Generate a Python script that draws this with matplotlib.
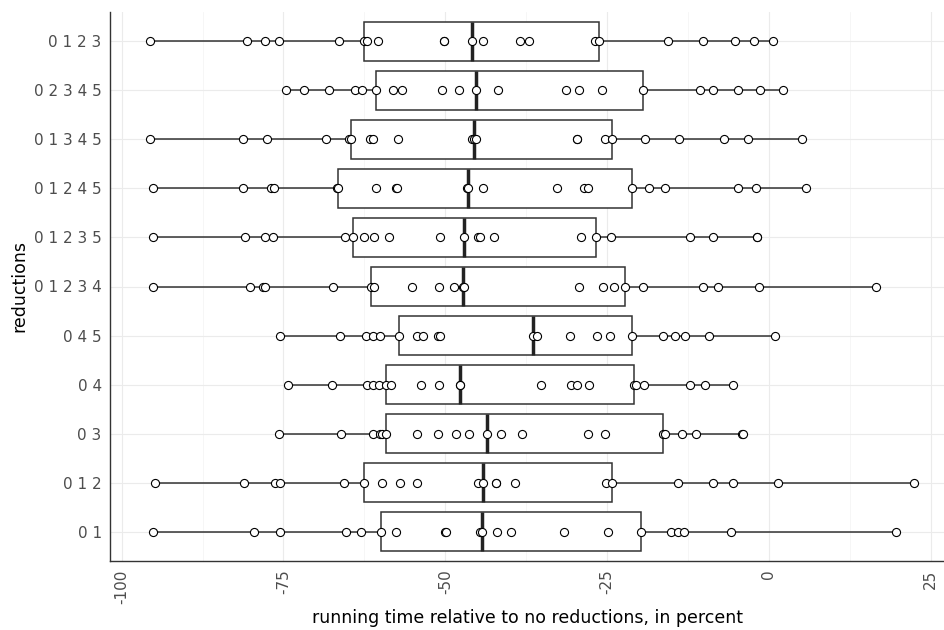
import matplotlib
matplotlib.use("Agg")
import matplotlib.pyplot as plt
from matplotlib.ticker import MultipleLocator

# categories from bottom to top
categories = ["0 1", "0 1 2", "0 3", "0 4", "0 4 5", "0 1 2 3 4",
              "0 1 2 3 5", "0 1 2 4 5", "0 1 3 4 5", "0 2 3 4 5", "0 1 2 3"]

r_01 = [-95.1, -79.6, -75.6, -65.4, -63.0, -60.0, -57.6, -50.0, -49.9, -44.6, -44.4,
        -42.0, -39.9, -31.6, -24.8, -19.7, -15.1, -14.1, -13.1, -5.9, 19.6]
r_012 = [-94.9, -81.1, -76.3, -75.6, -65.6, -62.5, -59.8, -57.0, -54.4, -45.0, -44.1,
         -42.2, -42.1, -39.2, -25.1, -24.3, -14.1, -8.7, -5.5, 1.4, 22.4]
r_03 = [-75.7, -66.1, -61.1, -60.1, -59.7, -59.1, -54.3, -51.2, -48.3, -46.4, -43.6,
        -41.4, -38.2, -28.0, -25.3, -16.3, -16.0, -13.5, -11.2, -4.1, -4.0]
r_04 = [-74.3, -67.5, -62.1, -61.1, -60.3, -59.1, -58.4, -53.8, -50.9, -47.8, -47.7,
        -35.2, -30.6, -29.7, -27.8, -20.8, -20.5, -19.3, -12.2, -9.8, -5.6]
r_045 = [-75.6, -66.2, -62.3, -61.2, -60.1, -57.2, -54.4, -53.4, -51.1, -50.8, -36.5,
         -35.9, -30.7, -26.5, -24.5, -21.2, -16.3, -14.5, -12.9, -9.2, 1.0]
r_01234 = [-95.2, -80.1, -78.1, -77.9, -67.4, -61.4, -61.0, -55.1, -50.9, -48.6, -47.3,
           -47.1, -29.3, -25.6, -23.9, -22.3, -19.4, -10.2, -7.9, -1.6, 16.6]
r_01235 = [-95.1, -81.0, -77.8, -76.6, -65.5, -64.3, -62.5, -61.0, -58.7, -50.8, -47.1,
           -45.0, -44.6, -42.5, -29.0, -26.7, -24.4, -12.2, -8.7, -1.9, -1.9]
r_01245 = [-95.1, -81.3, -76.9, -76.4, -66.8, -66.5, -60.7, -57.6, -57.5, -46.6, -46.5,
           -44.1, -32.8, -28.6, -27.9, -21.1, -18.6, -16.1, -4.7, -2.0, 5.8]
r_01345 = [-95.6, -81.2, -77.6, -68.4, -64.8, -64.5, -61.7, -61.1, -57.3, -45.8, -45.6,
           -45.2, -29.7, -29.6, -25.3, -24.2, -19.1, -13.9, -6.9, -3.3, 5.1]
r_02345 = [-74.6, -71.8, -68.0, -63.9, -62.9, -60.7, -58.1, -56.7, -50.5, -47.9, -45.2,
           -41.9, -31.3, -29.4, -25.8, -19.4, -10.7, -8.6, -4.8, -1.4, 2.1]
r_0123 = [-95.6, -80.7, -77.8, -75.7, -66.4, -62.5, -62.1, -60.4, -50.2, -50.2, -45.9,
          -44.1, -38.4, -37.1, -26.9, -26.2, -15.6, -10.2, -5.3, -2.3, 0.6]

series = [r_01, r_012, r_03, r_04, r_045, r_01234, r_01235, r_01245,
          r_01345, r_02345, r_0123]

x_ticks = [-100, -75, -50, -25, 0, 25]
x_tick_labels = ["-100", "-75", "-50", "-25", "0", "25"]

W, H = 944, 630
fig = plt.figure(figsize=(W / 100, H / 100), dpi=100)
left, right, top, bottom = 110, 944, 12, 561
ax = fig.add_axes([left / W, (H - bottom) / H, (right - left) / W, (bottom - top) / H])

positions = list(range(1, len(categories) + 1))
edge = "#333333"
ax.boxplot(series, positions=positions, vert=False, widths=0.8, whis=1.5,
           showfliers=False, patch_artist=True,
           boxprops=dict(facecolor="white", edgecolor=edge, linewidth=1.1),
           medianprops=dict(color="#222222", linewidth=2.5),
           whiskerprops=dict(color=edge, linewidth=1.1),
           capprops=dict(linewidth=0),
           zorder=2)

for pos, vals in zip(positions, series):
    ax.scatter(vals, [pos] * len(vals), s=34, facecolor="white",
               edgecolor="black", linewidth=0.8, zorder=3)

ax.set_xlim(-101.8, 27.05)
ax.set_ylim(0.4, len(categories) + 0.6)
ax.set_xticks(x_ticks)
ax.set_xticklabels(x_tick_labels, rotation=90, fontsize=11, color="#4D4D4D")
ax.xaxis.set_minor_locator(MultipleLocator(12.5))
ax.set_yticks(positions)
ax.set_yticklabels(categories, fontsize=11, color="#4D4D4D")

ax.grid(True, which="major", color="#EBEBEB", linewidth=0.8, zorder=0)
ax.grid(True, which="minor", axis="x", color="#F3F3F3", linewidth=0.5, zorder=0)
ax.set_axisbelow(True)
ax.tick_params(axis="both", which="both", length=0, pad=6)

for s in ["top", "right"]:
    ax.spines[s].set_visible(False)
for s in ["left", "bottom"]:
    ax.spines[s].set_color(edge)
    ax.spines[s].set_linewidth(1.0)

ax.set_xlabel("running time relative to no reductions, in percent", fontsize=12.5, labelpad=4)
ax.set_ylabel("reductions", fontsize=12.5, labelpad=4)

fig.savefig("out.png", dpi=100)
